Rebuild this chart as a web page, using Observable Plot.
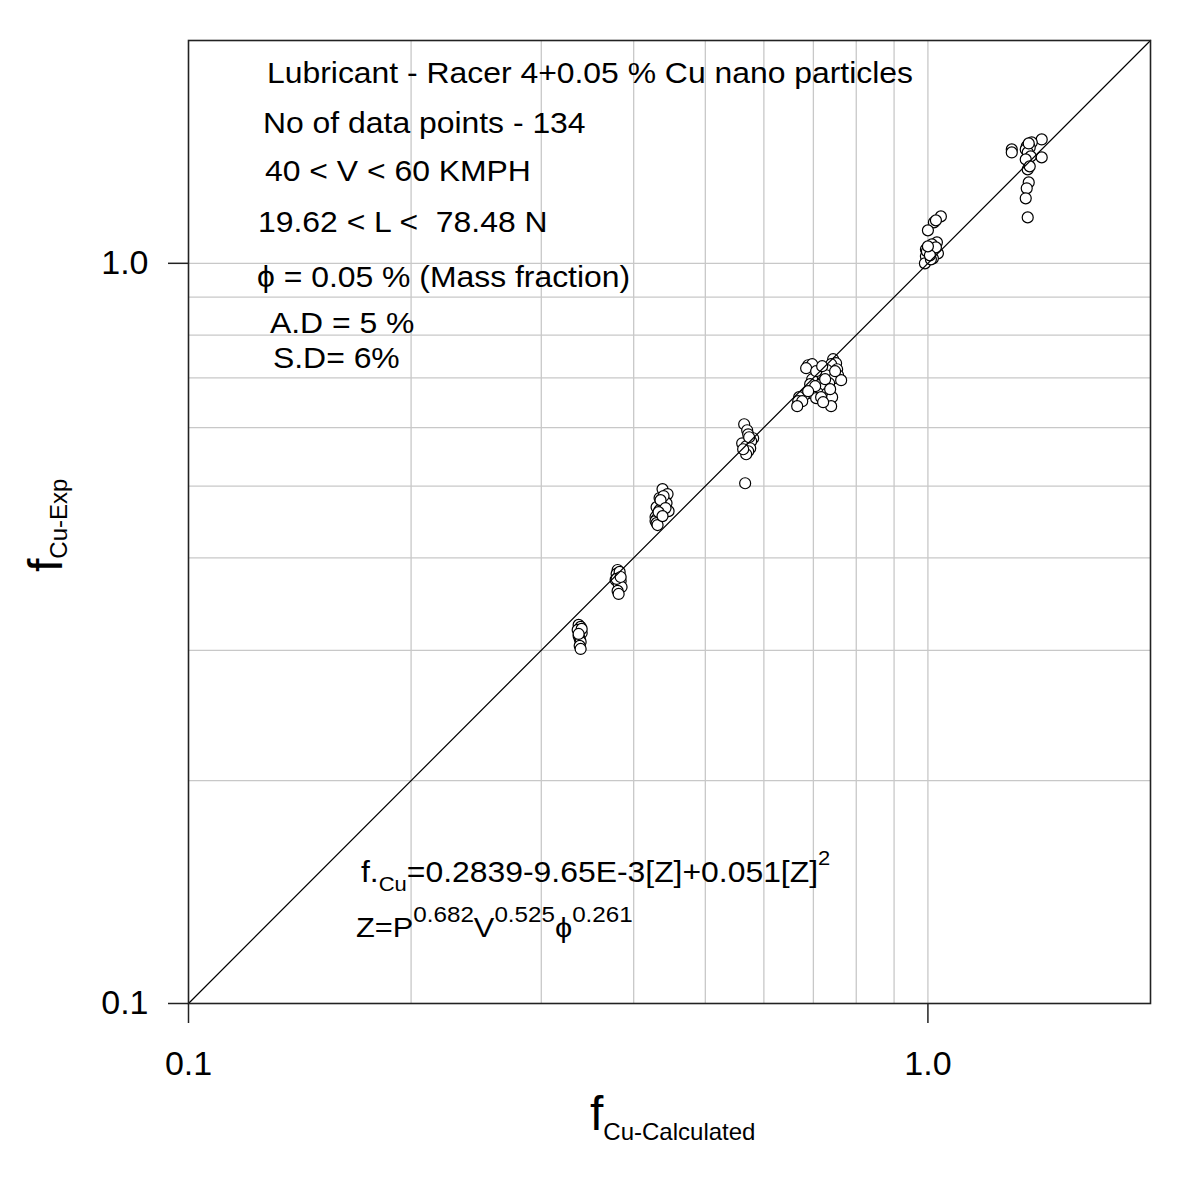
<!DOCTYPE html>
<html><head><meta charset="utf-8">
<script src="https://cdn.jsdelivr.net/npm/d3@7"></script>
<script src="https://cdn.jsdelivr.net/npm/@observablehq/plot@0.6"></script>
<style>body{margin:0;background:#fff}</style>
</head><body><div id="chart"></div>
<script>
// f Cu-Calculated (x) and f Cu-Exp (y), grouped by cluster
const fCalculated = [
  0.3370,0.3391,0.3360,0.3402,0.3370,0.3381,0.3391,0.3381,0.3391,0.3402,0.3370,
  0.3805,0.3793,0.3829,0.3805,0.3781,0.3841,0.3817,0.3852,0.3805,0.3817,0.3829,0.3793,0.3841,
  0.4376,0.4445,0.4336,0.4404,0.4431,0.4363,0.4296,0.4459,0.4336,0.4309,0.4282,0.4296,0.4282,0.4296,0.4309,0.4390,0.4349,0.4417,0.4322,0.4376,
  0.5643,0.5696,0.5714,0.5803,0.5608,0.5767,0.5678,0.5750,0.5714,0.5678,0.5660,0.5731,0.5625,
  0.7444,0.7513,0.7398,0.6887,0.6974,0.6844,0.7537,0.7307,0.7560,0.7149,0.7284,0.7083,0.7467,0.6974,0.7216,0.7632,0.6930,0.7127,0.7352,0.7017,0.7239,0.6952,0.7105,0.7307,0.6803,0.6697,0.7061,0.7171,0.7421,0.6677,0.6761,0.6656,0.7398,0.7216,0.7061,0.7261,0.7039,0.7375,0.6887,0.7490,0.7194,
  1.0412,1.0189,1.0252,1.0000,1.0284,1.0125,0.9938,1.0220,1.0031,1.0316,0.9938,1.0156,0.9907,1.0093,1.0252,0.9969,1.0062,1.0000,
  1.4253,1.3817,1.3603,1.3731,1.3561,1.2984,1.2984,1.3645,1.3773,1.4253,1.3561,1.3645,1.3731,1.3688,1.3603,1.3561,1.3645,1.3688
];
const fExp = [
  0.3247,0.3227,0.3197,0.3167,0.3138,0.3109,0.3080,0.3042,0.3013,0.3207,0.3157,
  0.3852,0.3805,0.3781,0.3758,0.3735,0.3723,0.3688,0.3654,0.3609,0.3575,0.3829,0.3746,0.3769,
  0.4954,0.4878,0.4818,0.4773,0.4743,0.4714,0.4684,0.4626,0.4641,0.4583,0.4541,0.4513,0.4485,0.4457,0.4430,0.4848,0.4787,0.4670,0.4612,0.4555,
  0.6061,0.5949,0.5875,0.5803,0.5713,0.5749,0.5660,0.5625,0.5573,0.5521,0.5045,0.5821,0.5608,
  0.7421,0.7329,0.7306,0.7283,0.7306,0.7216,0.7193,0.7171,0.7060,0.7083,0.7060,0.6973,0.6995,0.6973,0.6930,0.6952,0.6866,0.6844,0.6887,0.6760,0.6781,0.6676,0.6676,0.6676,0.6635,0.6594,0.6574,0.6594,0.6594,0.6512,0.6512,0.6412,0.6412,0.6492,0.7149,0.6973,0.6823,0.6760,0.6718,0.7149,0.7261,
  1.1572,1.1358,1.1430,1.1080,1.0674,1.0607,1.0444,1.0348,1.0315,1.0315,1.0219,1.0156,1.0000,1.0124,1.0509,1.0379,1.0252,1.0542,
  1.4702,1.4566,1.4386,1.4341,1.4253,1.4253,1.4120,1.4120,1.3946,1.3903,1.3817,1.3394,1.3520,1.2863,1.2627,1.2241,1.1536,1.4521
];
const gridValues = [0.2,0.3,0.4,0.5,0.6,0.7,0.8,0.9,1.0];
const tickValues = [0.1, 1.0];
const tickLabels = ["0.1", "1.0"];
const diagonal = [0.1, 2.0];
const axisDomain = [0.1, 2.0];
const infoLines = [
  "Lubricant - Racer 4+0.05 % Cu nano particles",
  "No of data points - 134",
  "40 < V < 60 KMPH",
  "19.62 < L <  78.48 N",
  "\u03D5 = 0.05 % (Mass fraction)",
  "A.D = 5 %",
  "S.D= 6%"
];

const points = fCalculated.map((x, i) => ({x, y: fExp[i]}));
const diagData = diagonal.map(v => ({x: v, y: v}));
const FONT = "'Liberation Sans', Arial, Helvetica, sans-serif";

const chart = Plot.plot({
  width: 1200, height: 1179,
  marginLeft: 188, marginRight: 50, marginTop: 40, marginBottom: 176,
  style: {fontFamily: FONT, background: "white", color: "black"},
  x: {type: "log", domain: axisDomain},
  y: {type: "log", domain: axisDomain},
  marks: [
    Plot.ruleX(gridValues, {stroke: "#c8c8c8", strokeWidth: 1.3}),
    Plot.ruleY(gridValues, {stroke: "#c8c8c8", strokeWidth: 1.3}),
    Plot.axisX({ticks: tickValues, tickFormat: d => tickLabels[tickValues.indexOf(d)], tickSize: 20, tickPadding: 27, fontSize: 34, label: null, stroke: "#222", strokeWidth: 1.5}),
    Plot.axisY({ticks: tickValues, tickFormat: d => tickLabels[tickValues.indexOf(d)], tickSize: 20, tickPadding: 20, fontSize: 34, label: null, stroke: "#222", strokeWidth: 1.5}),
    Plot.dot(points, {x: "x", y: "y", r: 5.5, fill: "white", stroke: "black", strokeWidth: 1.2}),
    Plot.line(diagData, {x: "x", y: "y", stroke: "black", strokeWidth: 1.2}),
    Plot.frame({stroke: "#222", strokeWidth: 1.6})
  ]
});
document.getElementById("chart").append(chart);
const svg = d3.select(chart);

function addText(parts, x, y, stretch = 1.1, transformExtra = "") {
  const t = svg.append("text")
    .attr("transform", `translate(${x},${y}) ${transformExtra} scale(${stretch},1)`)
    .attr("font-family", FONT).attr("fill", "black")
    .attr("text-anchor", "start")
    .style("white-space", "pre");
  parts.forEach(p => t.append("tspan").attr("font-size", p.size).attr("dy", p.dy || 0).text(p.text));
  return t;
}

const infoPos = [[267, 83], [263, 133], [265, 181], [258, 232], [257, 287], [270, 333], [273, 368]];
infoLines.forEach((s, i) => addText([{text: s, size: 29}], infoPos[i][0], infoPos[i][1]));

// formula
addText([
  {text: "f.", size: 29},
  {text: "Cu", size: 20, dy: 9},
  {text: "=0.2839-9.65E-3[Z]+0.051[Z]", size: 29, dy: -9},
  {text: "2", size: 20, dy: -17}
], 361, 882);
addText([
  {text: "Z=P", size: 28},
  {text: "0.682", size: 22, dy: -15},
  {text: "V", size: 28, dy: 15},
  {text: "0.525", size: 22, dy: -15},
  {text: "\u03D5", size: 28, dy: 15},
  {text: "0.261", size: 22, dy: -15}
], 356, 937);

// axis titles
addText([
  {text: "f", size: 48},
  {text: "Cu-Calculated", size: 24, dy: 10}
], 590, 1130, 1);
addText([
  {text: "f", size: 48},
  {text: "Cu-Exp", size: 24, dy: 5}
], 62, 572, 1, "rotate(-90)");
</script>
</body></html>
